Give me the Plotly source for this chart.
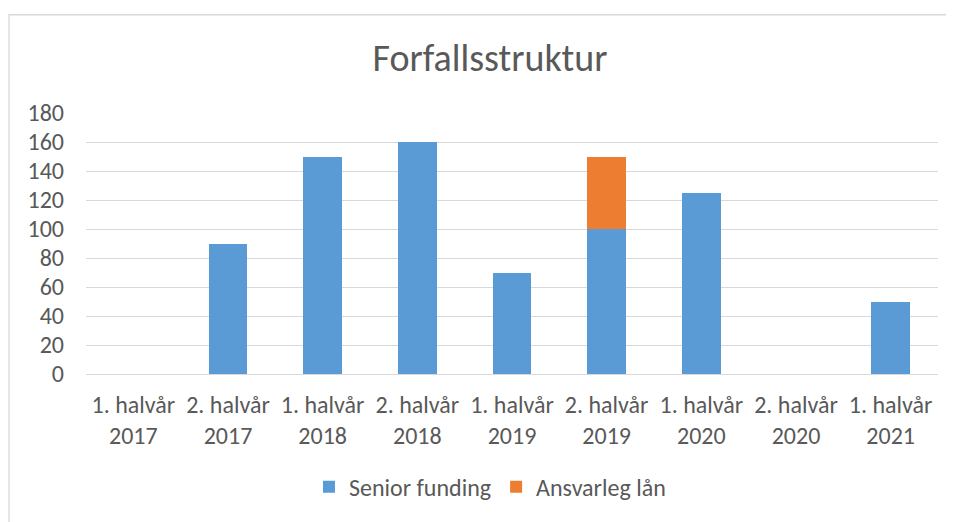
import plotly.graph_objects as go

categories = ["1. halvår<br>2017", "2. halvår<br>2017", "1. halvår<br>2018", "2. halvår<br>2018",
              "1. halvår<br>2019", "2. halvår<br>2019", "1. halvår<br>2020", "2. halvår<br>2020",
              "1. halvår<br>2021"]
senior_funding = [0, 90, 150, 160, 70, 100, 125, 0, 50]
ansvarleg_lan = [0, 0, 0, 0, 0, 50, 0, 0, 0]

FONT = "Carlito, Liberation Sans, Arial, sans-serif"
GREY = "#595959"

fig = go.Figure()
fig.add_trace(go.Bar(x=categories, y=senior_funding, name="Senior funding",
                     marker=dict(color="#5B9BD5", line=dict(width=0))))
fig.add_trace(go.Bar(x=categories, y=ansvarleg_lan, name="Ansvarleg lån",
                     marker=dict(color="#ED7D31", line=dict(width=0))))

# page has an 8px body margin, so figure coords = page coords - 8
W, H = 946, 514
L, R, T, B = 78, 16, 105, 146
pw = W - L - R
ph = H - T - B

fig.update_layout(
    width=W, height=H,
    barmode="stack", bargap=0.59,
    paper_bgcolor="white", plot_bgcolor="white",
    margin=dict(l=L, r=R, t=T, b=B),
    font=dict(family=FONT, color=GREY, size=24),
    title=dict(text="Forfallsstruktur", x=482 / W, xanchor="center",
               y=1 - 50 / H, yanchor="middle",
               font=dict(size=38, color=GREY, family=FONT)),
    xaxis=dict(showgrid=False, showline=False, ticks="", tickfont=dict(size=24, color=GREY),
               tickangle=0, ticklabelstandoff=14),
    yaxis=dict(range=[0, 180], dtick=20, showgrid=True, gridcolor="#D9D9D9", gridwidth=1.3,
               zeroline=True, zerolinecolor="#D9D9D9", zerolinewidth=1.3,
               tickfont=dict(size=24, color=GREY), ticks="", ticklabelstandoff=21),
    legend=dict(orientation="h", x=(482 - L) / pw, xanchor="center",
                y=-(482 - (T + ph)) / ph, yanchor="middle",
                font=dict(size=24, color=GREY), traceorder="normal",
                itemwidth=30),
    shapes=[dict(type="rect", xref="paper", yref="paper",
                 x0=(1 - L) / pw, x1=(W + 10 - L) / pw,
                 y0=-(H + 10 - T - ph) / ph, y1=1 + (T - 6) / ph,
                 line=dict(color="#D9D9D9", width=1.3), fillcolor="rgba(0,0,0,0)", layer="below")],
)

fig.write_html("out.html")
